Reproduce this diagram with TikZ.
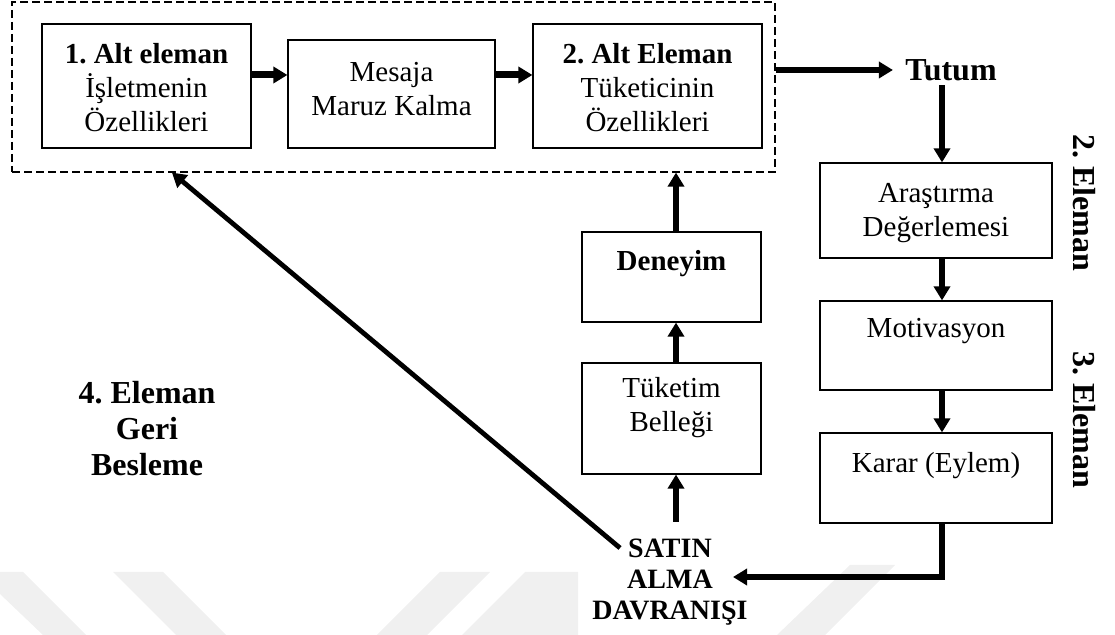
\documentclass[tikz,border=0pt]{standalone}
\usepackage{fontspec}
\setmainfont{Liberation Serif}
\usetikzlibrary{arrows.meta}
\frenchspacing
\newcommand\boxfont{\fontsize{14.5}{17}\selectfont}
\newcommand\labfont{\fontsize{16}{18}\selectfont\bfseries}
\newcommand\buyfont{\fontsize{14}{15.5}\selectfont\bfseries}
\begin{document}
\begin{tikzpicture}[x=0.5pt,y=-0.5pt,
  box/.style={draw, line width=0.6pt, inner sep=0pt, rectangle},
  grpbox/.style={draw, line width=0.6pt, dash pattern=on 4pt off 2pt, inner sep=0pt, rectangle},
  txt/.style={align=center, inner sep=0pt, font=\boxfont},
  lab/.style={align=center, inner sep=0pt, font=\labfont},
  arr/.style={-{Triangle[length=7pt,width=8pt]}, line width=3pt},
  wmark/.style={fill=black!6}
]
\useasboundingbox (0,0) rectangle (1115,635);

% light background bands along the bottom edge
\fill[wmark] (0,572) -- (23,572) -- (86,635) -- (43,635) -- (0,594) -- cycle;
\fill[wmark] (113,572) -- (163,572) -- (226,635) -- (176,635) -- cycle;
\fill[wmark] (440,572) -- (490,572) -- (427,635) -- (377,635) -- cycle;
\fill[wmark] (525,572) -- (578,572) -- (578,635) -- (462,635) -- cycle;
\fill[wmark] (850,565) -- (895,565) -- (825,635) -- (777,635) -- cycle;

% dashed group around the first row
\node[grpbox, minimum width=381.5pt, minimum height=85pt] (grp) at (393.5,87) {};

% boxes
\node[box, minimum width=104.5pt, minimum height=62pt] (b1) at (146.5,86) {};
\node[box, minimum width=103.5pt, minimum height=54pt] (b2) at (391.5,94) {};
\node[box, minimum width=114.5pt, minimum height=62pt] (b3) at (647.5,86) {};
\node[box, minimum width=116pt, minimum height=47.5pt] (ara) at (936,210.5) {};
\node[box, minimum width=116pt, minimum height=44.5pt] (mot) at (936,345.5) {};
\node[box, minimum width=116pt, minimum height=45pt] (kar) at (936,478) {};
\node[box, minimum width=89.5pt, minimum height=45pt] (den) at (671.5,277) {};
\node[box, minimum width=89.5pt, minimum height=55.5pt] (tuk) at (671.5,418.5) {};

% box texts
\node[txt] (b1t) at (146.5,88) {\textbf{1. Alt eleman}\\İşletmenin\\Özellikleri};
\node[txt] (b2t) at (391.5,89) {Mesaja\\Maruz Kalma};
\node[txt] (b3t) at (647.5,88) {\textbf{2. Alt Eleman}\\Tüketicinin\\Özellikleri};
\node[txt] (arat) at (936,213) {Araştırma\\Değerlemesi};
\node[txt] (mott) at (936,331) {Motivasyon};
\node[txt] (kart) at (936,466) {Karar (Eylem)};
\node[txt] (dent) at (671.5,264) {\textbf{Deneyim}};
\node[txt] (tukt) at (671.5,408) {Tüketim\\Belleği};

% free labels
\node[lab, inner xsep=6pt, inner ysep=2pt] (tutum) at (951,70) {Tutum};
\node[lab] (geri) at (147,429) {4. Eleman\\Geri\\Besleme};
\node[lab, rotate=-90] (el2) at (1084,203) {2. Eleman};
\node[lab, rotate=-90] (el3) at (1084,420) {3. Eleman};
\node[align=center, inner sep=0pt, font=\buyfont] (buy) at (670,582) {SATIN\\ALMA\\DAVRANIŞI};

% helper coordinates for connector lines
\coordinate (row) at (0,75);
\coordinate (col) at (942,0);
\coordinate (col2) at (676,0);
\coordinate (fbx) at (172,0);
\coordinate (buyin) at (733,577);
\coordinate (buyup) at (676,522);
\coordinate (fb) at (620,548);

% connectors
\draw[arr, line width=3.5pt] (b1.east |- row) -- (b2.west |- row);
\draw[arr, line width=3.5pt] (b2.east |- row) -- (b3.west |- row);
\draw[arr] (grp.east |- tutum.west) -- (tutum.west);
\draw[arr] (tutum.south -| col) -- (ara.north -| col);
\draw[arr] (ara.south -| col) -- (mot.north -| col);
\draw[arr] (mot.south -| col) -- (kar.north -| col);
\draw[arr] (kar.south -| col) |- (buyin);
\draw[arr] (buyup) -- (tuk.south -| col2);
\draw[arr] (tuk.north -| col2) -- (den.south -| col2);
\draw[arr] (den.north -| col2) -- (grp.south -| col2);
\draw[arr, line width=2.4pt] (fb) -- (grp.south -| fbx);
\end{tikzpicture}
\end{document}
